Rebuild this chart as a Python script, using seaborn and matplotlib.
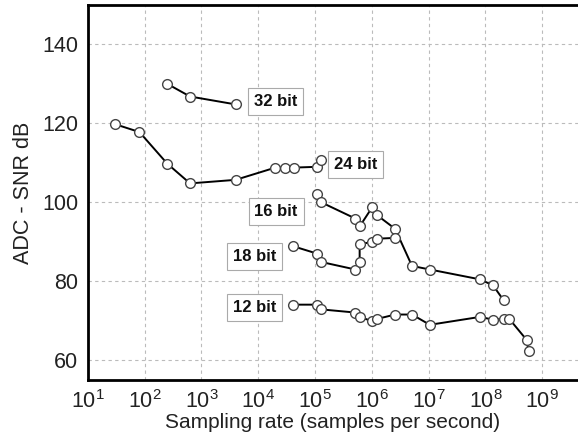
import numpy as np
import pandas as pd
import matplotlib
matplotlib.use('Agg')
import matplotlib.pyplot as plt
import seaborn as sns

# values (x = samples per second, y = SNR dB)
x_32 = [250, 630, 4000]
y_32 = [130, 126.8, 124.8]

x_24 = [30, 81, 250, 630, 4000, 20000, 30000, 42000, 110000, 129000]
y_24 = [119.8, 117.8, 109.8, 104.8, 105.7, 108.8, 108.8, 108.8, 109.0, 110.8]

x_16 = [110000, 129000, 513000, 610000, 1.02e6, 1.25e6, 2.57e6, 5.1e6, 1.05e7, 8.05e7, 1.36e8, 2.09e8]
y_16 = [102.0, 100.0, 95.9, 93.9, 98.8, 96.7, 93.3, 83.9, 83.0, 80.5, 79.0, 75.2]

x_18 = [41000, 110000, 129000, 513000, 610000, 610000, 1.02e6, 1.25e6, 2.57e6]
y_18 = [88.9, 87.0, 84.9, 83.0, 84.9, 89.5, 89.9, 90.8, 91.0]

x_12 = [41000, 110000, 129000, 513000, 610000, 1.02e6, 1.25e6, 2.57e6, 5.1e6, 1.05e7,
        8.05e7, 1.36e8, 2.09e8, 2.63e8, 5.3e8, 5.75e8]
y_12 = [74.1, 74.1, 72.9, 72.1, 71.0, 69.9, 70.5, 71.6, 71.6, 69.0,
        71.0, 70.3, 70.5, 70.5, 65.2, 62.4]

series = {'32 bit': (x_32, y_32), '24 bit': (x_24, y_24), '16 bit': (x_16, y_16),
          '18 bit': (x_18, y_18), '12 bit': (x_12, y_12)}

# label anchor points (data coords, left edge of text)
label_pos = {'32 bit': (8470, 125.6), '24 bit': (215000, 109.6), '16 bit': (8570, 97.7),
             '18 bit': (3600, 86.3), '12 bit': (3600, 73.4)}

sns.set_style('white')
plt.rcParams['font.family'] = ['Liberation Sans', 'DejaVu Sans']
plt.rcParams['mathtext.default'] = 'regular'

fig = plt.figure(figsize=(5.78, 4.43), dpi=100)
ax = fig.add_axes([0.152, 0.142, 0.848, 0.847])

for name, (xs, ys) in series.items():
    sns.lineplot(x=xs, y=ys, ax=ax, color='black', linewidth=1.4,
                 estimator=None, sort=False, marker='o', markersize=7,
                 markerfacecolor='white', markeredgecolor='#444444',
                 markeredgewidth=1.0)

for name, (lx, ly) in label_pos.items():
    ax.text(lx, ly, name, fontsize=12, fontweight='bold', ha='left', va='center',
            color='#111111',
            bbox=dict(boxstyle='square,pad=0.35', facecolor='white',
                      edgecolor='#aaaaaa', linewidth=0.8))

ax.set_xscale('log')
ax.set_xlim(10, 10 ** 9.63)
ax.set_ylim(55, 150)
ax.set_xticks([10.0 ** k for k in range(1, 10)])
ax.set_yticks([60, 80, 100, 120, 140])
ax.xaxis.set_minor_locator(matplotlib.ticker.NullLocator())

ax.grid(True, linestyle=(0, (3, 3)), color='#bbbbbb', linewidth=0.8)
ax.set_axisbelow(True)

for s in ['left', 'bottom', 'top']:
    ax.spines[s].set_linewidth(2)
    ax.spines[s].set_color('black')
ax.spines['right'].set_visible(False)

ax.tick_params(axis='both', direction='in', length=6, width=2, labelsize=15.5,
               pad=7, labelcolor='#222222')
ax.set_xlabel('Sampling rate (samples per second)', fontsize=15, labelpad=0,
              color='#222222')
ax.set_ylabel('ADC - SNR dB', fontsize=15.5, labelpad=6, color='#222222')

fig.savefig('out.png', dpi=100)
